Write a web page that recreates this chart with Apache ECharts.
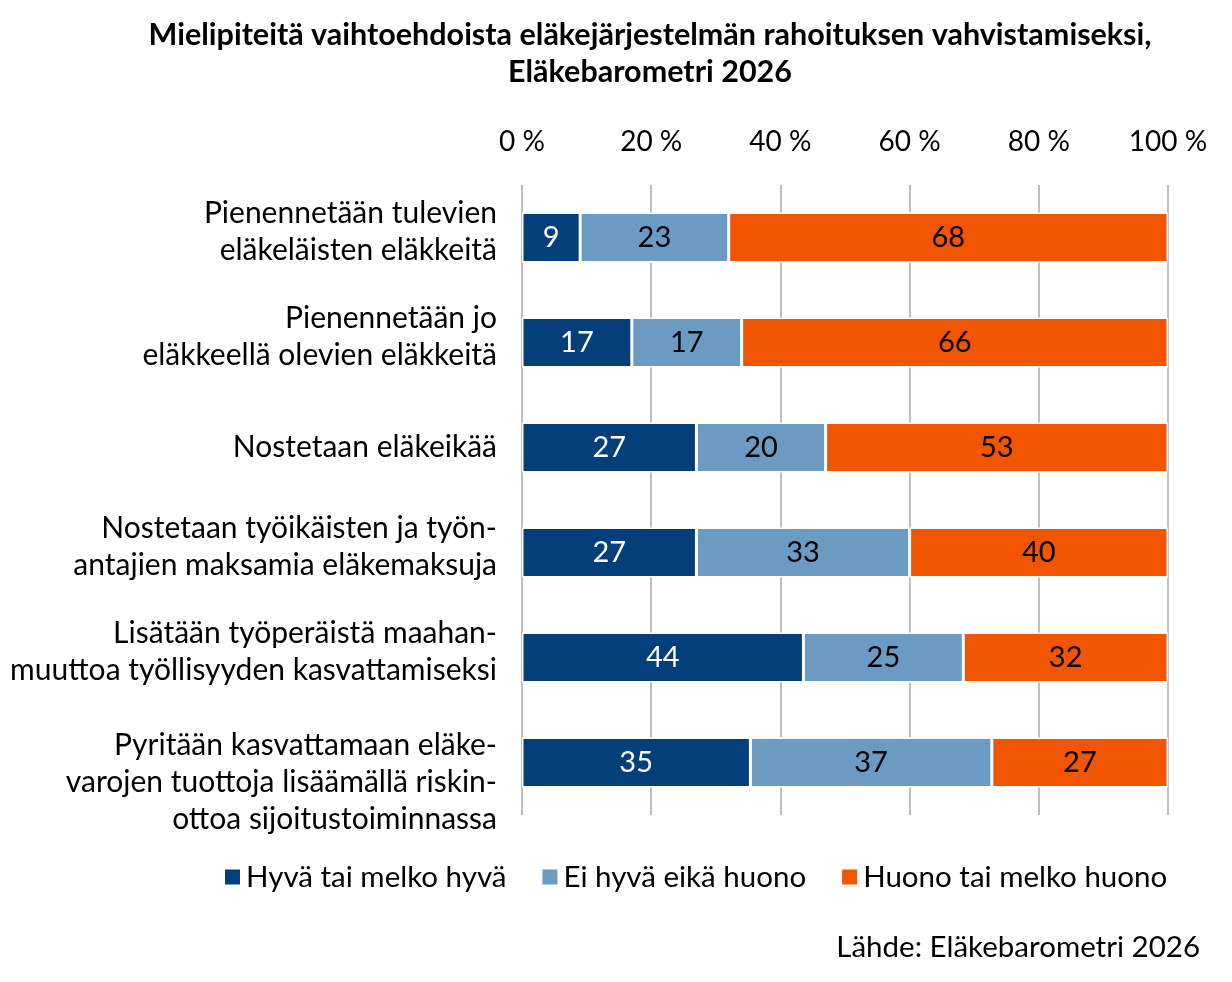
<!DOCTYPE html>
<html>
<head>
<meta charset="utf-8">
<script src="https://cdn.jsdelivr.net/npm/echarts@6/dist/echarts.min.js"></script>
<style>
  html, body { margin: 0; padding: 0; background: #fff; }
  #chart { width: 1232px; height: 982px; }
</style>
</head>
<body>
<div id="chart"></div>
<script>
const categories = [
  'Pienennetään tulevien\neläkeläisten eläkkeitä',
  'Pienennetään jo\neläkkeellä olevien eläkkeitä',
  'Nostetaan eläkeikää',
  'Nostetaan työikäisten ja työn-\nantajien maksamia eläkemaksuja',
  'Lisätään työperäistä maahan-\nmuuttoa työllisyyden kasvattamiseksi',
  'Pyritään kasvattamaan eläke-\nvarojen tuottoja lisäämällä riskin-\nottoa sijoitustoiminnassa'
];
const seriesNames = ['Hyvä tai melko hyvä', 'Ei hyvä eikä huono', 'Huono tai melko huono'];
const good = [9, 17, 27, 27, 44, 35];
const neutral = [23, 17, 20, 33, 25, 37];
const bad = [68, 66, 53, 40, 32, 27];
const tickLabels = [0, 20, 40, 60, 80, 100];

const colors = ['#053F7B', '#6B9AC3', '#F25500'];
const labelColors = ['#FFFFFF', '#000000', '#000000'];
const fontFamily = 'Lato, "Open Sans", sans-serif';

const totals = categories.map((c, i) => good[i] + neutral[i] + bad[i]);

function toItems(values) {
  // 100 % stacked: bar length normalised, label shows the reported value
  return values.map((v, i) => ({ value: v / totals[i] * 100, raw: v }));
}

// Excel sets multi-line category labels a bit off the bar centre:
// an invisible spacer line nudges them up or down
function categoryLabel(name) {
  const lines = name.split('\n').length;
  if (lines === 2) return name + '\n{bot| }';
  if (lines === 3) return '{top| }\n' + name;
  return name;
}

const chart = echarts.init(document.getElementById('chart'));

const series = [good, neutral, bad].map((values, k) => ({
  name: seriesNames[k],
  type: 'bar',
  stack: 'total',
  barWidth: 50,
  data: toItems(values),
  itemStyle: {
    color: colors[k],
    borderColor: '#FFFFFF',
    borderWidth: 1.5
  },
  label: {
    show: true,
    position: 'inside',
    color: labelColors[k],
    fontFamily,
    fontSize: 29,
    formatter: p => String(p.data.raw)
  },
  emphasis: { disabled: true }
}));

chart.setOption({
  backgroundColor: '#FFFFFF',
  animation: false,
  color: colors,
  title: {
    text: 'Mielipiteitä vaihtoehdoista eläkejärjestelmän rahoituksen vahvistamiseksi,\nEläkebarometri 2026',
    left: 645,
    top: 12,
    textAlign: 'center',
    textStyle: {
      fontFamily,
      fontSize: 30.5,
      fontWeight: 'bold',
      color: '#000000',
      lineHeight: 37
    }
  },
  grid: {
    left: 522,
    right: 64,
    top: 185,
    bottom: 167,
    containLabel: false
  },
  legend: {
    data: seriesNames,
    left: 218,
    top: 857,
    itemWidth: 17,
    itemHeight: 17,
    itemGap: 34,
    icon: 'rect',
    textStyle: {
      fontFamily,
      fontSize: 29.5,
      color: '#000000'
    }
  },
  xAxis: {
    type: 'value',
    position: 'top',
    min: tickLabels[0],
    max: tickLabels[tickLabels.length - 1],
    interval: 20,
    axisLine: { show: false },
    axisTick: { show: false },
    axisLabel: {
      formatter: '{value} %',
      fontFamily,
      fontSize: 28,
      color: '#000000',
      margin: 29
    },
    splitLine: {
      show: true,
      lineStyle: { color: '#BFBFBF', width: 2 }
    }
  },
  yAxis: {
    type: 'category',
    data: categories,
    inverse: true,
    axisLine: { show: false },
    axisTick: { show: false },
    axisLabel: {
      interval: 0,
      hideOverlap: false,
      showMinLabel: true,
      showMaxLabel: true,
      fontFamily,
      fontSize: 30,
      color: '#000000',
      lineHeight: 37,
      align: 'right',
      margin: 25,
      formatter: categoryLabel,
      rich: {
        top: { fontSize: 10, lineHeight: 40 },
        bot: { fontSize: 10, lineHeight: 12 }
      }
    }
  },
  graphic: [
    {
      type: 'text',
      right: 32,
      top: 932,
      style: {
        text: 'Lähde: Eläkebarometri 2026',
        fontFamily,
        fontSize: 29.5,
        fill: '#000000'
      }
    }
  ],
  series
});
</script>
</body>
</html>
